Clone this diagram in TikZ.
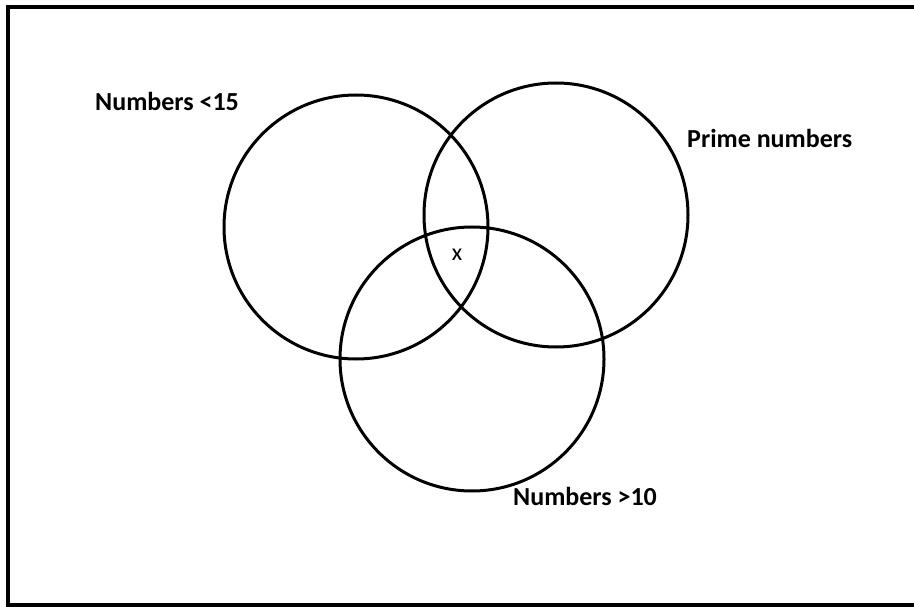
\documentclass[tikz,border=0pt]{standalone}
\usepackage{fontspec}
\setmainfont{Carlito}
\begin{document}
\begin{tikzpicture}[x=1pt,y=-1pt,
  vcircle/.style={draw=black,line width=3pt,circle,minimum size=264pt,inner sep=0pt},
  setlabel/.style={anchor=base west,inner sep=0pt,font=\fontsize{26}{30}\selectfont\bfseries},
  elemlabel/.style={anchor=base,inner sep=0pt,font=\fontsize{24}{28}\selectfont}]
\useasboundingbox (0,0) rectangle (914,607);
\fill[white] (0,0) rectangle (914,607);
\draw[line width=4pt] (8,7) rectangle (960,605);
\node[vcircle] (small) at (356,227) {};
\node[vcircle] (prime) at (556,215) {};
\node[vcircle] (big) at (472,359) {};
\node[setlabel] (lsmall) at (95,111) {Numbers <15};
\node[setlabel] (lprime) at (687,148) {Prime numbers};
\node[setlabel] (lbig) at (513,505) {Numbers >10};
\node[elemlabel] (x) at (457,260) {x};
\end{tikzpicture}
\end{document}
